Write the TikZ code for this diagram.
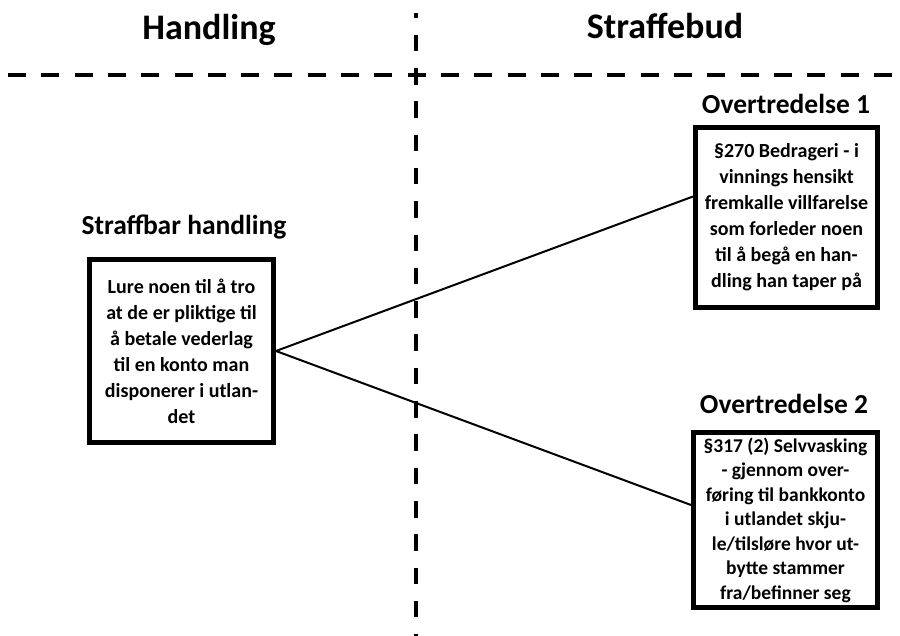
\documentclass[tikz,border=0pt]{standalone}
\usepackage{fontspec}
\setmainfont{Carlito}
\usetikzlibrary{positioning}

\begin{document}
\begin{tikzpicture}[x=1pt,y=-1pt,
    overskrift/.style={anchor=base,font=\bfseries\fontsize{36}{43}\selectfont},
    tittel/.style={anchor=base,font=\bfseries\fontsize{27.5}{33}\selectfont},
    boks/.style={draw,line width=5pt,inner sep=0pt,align=center,
        font=\bfseries\fontsize{20}{26}\selectfont},
    skille/.style={line width=4pt},
    kobling/.style={line width=2pt}]
    \useasboundingbox (0,0) rectangle (900,636);

    % skillelinjer
    \draw[skille,dash pattern=on 18pt off 15.3pt] (8,75) -- (900,75);
    \draw[skille,dash pattern=on 16.5pt off 16.8pt,dash phase=11.5pt] (416,13) -- (416,636);

    \node[overskrift] (handling) at (209,40) {Handling};
    \node[overskrift] (straffebud) at (665,38.5) {Straffebud};

    % venstre side
    \node[tittel] (sbtittel) at (184,235) {Straffbar handling};
    \node[boks,minimum width=184pt,minimum height=183pt] (sb) at (181.5,351)
        {Lure noen til å tro\\ at de er pliktige til\\ å betale vederlag\\ til en konto man\\ disponerer i utlan-\\ det};

    % høyre side
    \node[tittel] (ot1tittel) at (786,113.3) {Overtredelse 1};
    \node[boks,minimum width=182pt,minimum height=180pt] (ot1) at (786.5,217.5)
        {§270 Bedrageri - i\\ vinnings hensikt\\ fremkalle villfarelse\\ som forleder noen\\ til å begå en han-\\ dling han taper på};

    \node[tittel] (ot2tittel) at (784,413.3) {Overtredelse 2};
    \node[boks,minimum width=184pt,minimum height=175pt,
        font=\bfseries\fontsize{19.5}{24.5}\selectfont] (ot2) at (785.5,520)
        {§317 (2) Selvvasking\\ - gjennom over-\\ føring til bankkonto\\ i utlandet skju-\\ le/tilsløre hvor ut-\\ bytte stammer\\ fra/befinner seg};

    \draw[kobling] (sb.east) -- ([yshift=21pt]ot1.west);
    \draw[kobling] (sb.east) -- ([yshift=15pt]ot2.west);
\end{tikzpicture}
\end{document}
